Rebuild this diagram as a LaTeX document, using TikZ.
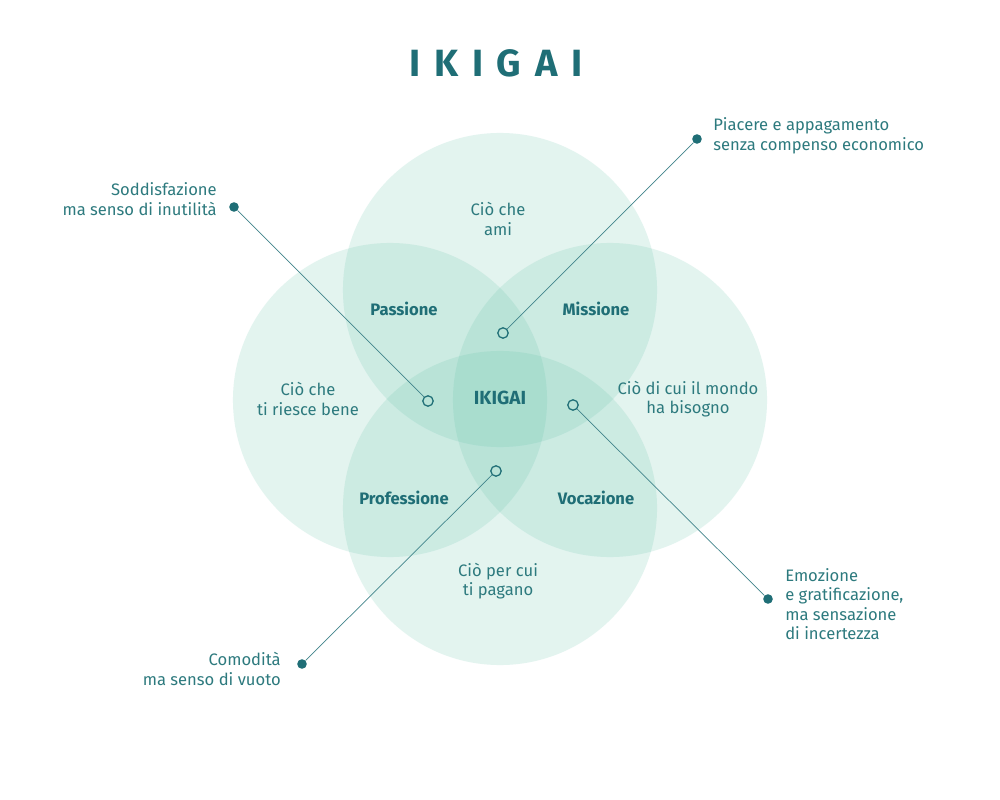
\documentclass[tikz,border=0pt]{standalone}
\usepackage{fontspec}
\setmainfont{Fira Sans}
\newfontfamily\titlefont[LetterSpace=36.0]{Fira Sans}
\definecolor{teal1}{RGB}{31,110,118}
\definecolor{teal2}{RGB}{45,122,126}
\definecolor{mint}{RGB}{100,195,170}
\tikzset{
  pic/.style={x=0.025cm,y=-0.025cm},
  ring/.style={circle,fill=mint,fill opacity=0.18,draw=none,minimum size=7.85cm,inner sep=0pt},
  lbl/.style={text=teal2,font=\fontsize{11.8}{13.9}\selectfont,align=center,inner sep=0pt},
  zone/.style={text=teal1,font=\fontsize{11.8}{13.9}\selectfont\bfseries,inner sep=0pt},
  note/.style={text=teal2,font=\fontsize{11.8}{13.9}\selectfont,inner sep=0pt},
  fdot/.style={circle,fill=teal1,minimum size=0.24cm,inner sep=0pt},
  odot/.style={circle,draw=teal1,line width=0.9pt,minimum size=0.26cm,inner sep=0pt},
  conn/.style={draw=teal1!85,line width=0.5pt}
}
\begin{document}
\begin{tikzpicture}[pic]
\useasboundingbox[fill=white] (0,0) rectangle (1000,800);
\node[ring] (ctop) at (500,290) {};
\node[ring] (cleft) at (390,400) {};
\node[ring] (cright) at (610,400) {};
\node[ring] (cbot) at (500,508) {};

\node[text=teal1,font=\titlefont\bfseries\fontsize{27}{30}\selectfont,inner sep=0pt] (title) at (496,63) {IKIGAI};

\node[lbl] (love) at (498,219) {Ciò che\\ami};
\node[lbl] (good) at (308,399) {Ciò che\\ti riesce bene};
\node[lbl] (world) at (688,399) {Ciò di cui il mondo\\ha bisogno};
\node[lbl] (paid) at (498,581) {Ciò per cui\\ti pagano};

\node[zone] (pass) at (404,309) {Passione};
\node[zone] (miss) at (596,309) {Missione};
\node[zone] (prof) at (404,498) {Professione};
\node[zone] (voc) at (596,498) {Vocazione};
\node[zone,font=\fontsize{13.5}{15}\selectfont\bfseries] (iki) at (500,398) {IKIGAI};

\node[fdot] (d1) at (234,207) {};
\node[odot] (o1) at (428,401) {};
\node[fdot] (d2) at (697,139) {};
\node[odot] (o2) at (503,333) {};
\node[fdot] (d3) at (768,599) {};
\node[odot] (o3) at (573,405) {};
\node[fdot] (d4) at (302,664) {};
\node[odot] (o4) at (496,471) {};
\draw[conn] (d1) -- (o1);
\draw[conn] (d2) -- (o2);
\draw[conn] (d3) -- (o3);
\draw[conn] (d4) -- (o4);

\node[note,anchor=east,align=right] (n1) at (217,199) {Soddisfazione\\ma senso di inutilità};
\node[note,anchor=west,align=left] (n2) at (713,136) {Piacere e appagamento\\senza compenso economico};
\node[note,anchor=west,align=left] (n3) at (785,604) {Emozione\\e gratificazione,\\ma sensazione\\di incertezza};
\node[note,anchor=east,align=right] (n4) at (281,669) {Comodità\\ma senso di vuoto};
\end{tikzpicture}
\end{document}
